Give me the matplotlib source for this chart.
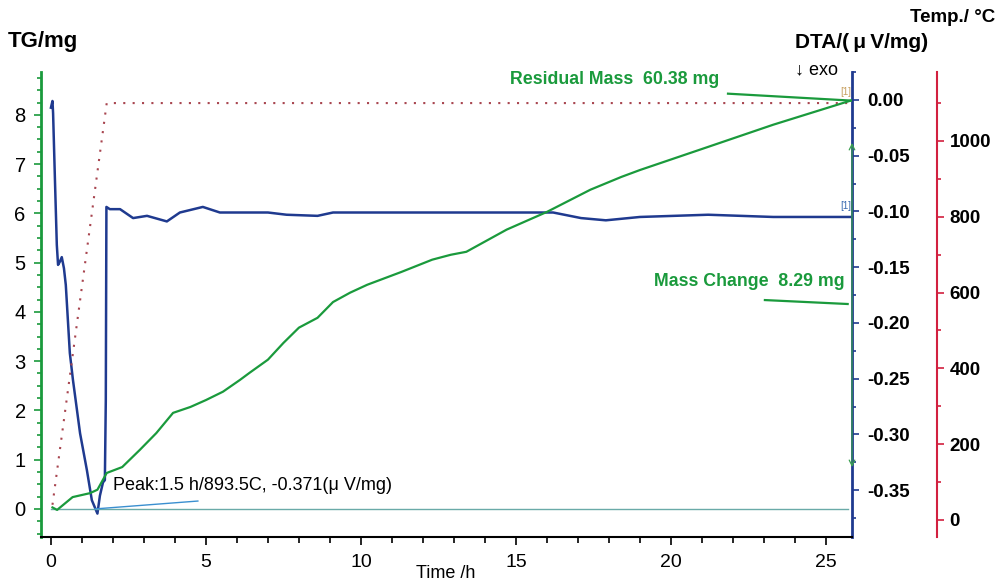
import matplotlib
matplotlib.use("Agg")
import matplotlib.pyplot as plt
from matplotlib.ticker import MultipleLocator

plt.rcParams['font.family'] = ['Liberation Sans', 'DejaVu Sans']

# ---- data ----
tg_time = [0.05, 0.2, 0.7, 1.26, 1.5, 1.8, 2.3, 2.87, 3.4, 3.94, 4.5, 5.0, 5.55, 6.1, 6.4, 7.0,
           7.5, 8.0, 8.6, 9.1, 9.65, 10.2, 11.3, 12.3, 12.9, 13.4, 14.7, 16.0, 17.4, 18.4, 19.0,
           21.2, 23.3, 25.8]
tg_mass = [0.03, -0.02, 0.24, 0.32, 0.39, 0.73, 0.85, 1.2, 1.54, 1.95, 2.07, 2.21, 2.38, 2.62, 2.76,
           3.03, 3.37, 3.68, 3.88, 4.2, 4.39, 4.55, 4.81, 5.06, 5.16, 5.22, 5.67, 6.03, 6.48, 6.74,
           6.88, 7.35, 7.8, 8.29]

dta_time = [0.0, 0.05, 0.07, 0.13, 0.19, 0.23, 0.29, 0.35, 0.42, 0.48, 0.61, 0.71, 0.94, 1.16, 1.32,
            1.5, 1.58, 1.68, 1.74, 1.77, 1.79, 1.9, 2.23, 2.65, 3.1, 3.74, 4.16, 4.9, 5.45, 6.1,
            7.0, 7.6, 8.6, 9.1, 12.9, 16.2, 17.1, 17.9, 19.0, 21.2, 23.3, 25.8]
dta_val = [-0.007, -0.001, -0.012, -0.072, -0.130, -0.148, -0.145, -0.141, -0.151, -0.166, -0.227,
           -0.251, -0.299, -0.332, -0.359, -0.371, -0.355, -0.343, -0.341, -0.270, -0.096, -0.098,
           -0.098, -0.106, -0.104, -0.109, -0.101, -0.096, -0.101, -0.101, -0.101, -0.103, -0.104,
           -0.101, -0.101, -0.101, -0.106, -0.108, -0.105, -0.103, -0.105, -0.105]

temp_time = [0.05, 1.8, 25.8]
temp_val = [40, 1100, 1100]

tg_ticks = [0, 1, 2, 3, 4, 5, 6, 7, 8]
dta_ticks = [0.00, -0.05, -0.10, -0.15, -0.20, -0.25, -0.30, -0.35]
temp_ticks = [0, 200, 400, 600, 800, 1000]
time_ticks = [0, 5, 10, 15, 20, 25]

peak_text = "Peak:1.5 h/893.5C, -0.371(\u03bc V/mg)"
residual_text = "Residual Mass  60.38 mg"
change_text = "Mass Change  8.29 mg"

GREEN = '#1a9a3c'
BLUE = '#1f3a8f'
RED = '#d2203f'
DOT = '#a8454f'

W, H = 1003, 583
fig = plt.figure(figsize=(W / 100, H / 100), dpi=100)
L, R, B, T = 41 / W, 852 / W, 1 - 537 / H, 1 - 72 / H
ax = fig.add_axes([L, B, R - L, T - B])
ax2 = ax.twinx()
ax3 = ax.twinx()

ax.set_xlim(-0.32, 25.84)
ax.set_ylim(-0.57, 8.87)
ax2.set_ylim(-0.392, 0.025)
ax3.set_ylim(-45, 1182)

# spines
for a in (ax, ax2, ax3):
    a.spines['top'].set_visible(False)
ax.spines['right'].set_visible(False)
ax2.spines['left'].set_visible(False)
ax3.spines['left'].set_visible(False)
ax2.spines['bottom'].set_visible(False)
ax3.spines['bottom'].set_visible(False)
ax.spines['left'].set_color(GREEN)
ax.spines['left'].set_linewidth(2)
ax.spines['bottom'].set_linewidth(1.5)
ax2.spines['right'].set_color(BLUE)
ax2.spines['right'].set_linewidth(2)
ax3.spines['right'].set_position(('axes', (937 - 41) / (852 - 41)))
ax3.spines['right'].set_color(RED)
ax3.spines['right'].set_linewidth(1.5)

# ticks
ax.set_xticks(time_ticks)
ax.xaxis.set_minor_locator(MultipleLocator(1))
ax.set_yticks(tg_ticks)
ax.yaxis.set_minor_locator(MultipleLocator(0.25))
ax.tick_params(axis='x', which='major', length=6, width=1.2, labelsize=14, pad=6)
ax.tick_params(axis='x', which='minor', length=4, width=1.2)
ax.tick_params(axis='y', which='major', length=5, width=1.2, color=GREEN, labelsize=14.5, pad=6)
ax.tick_params(axis='y', which='minor', length=3, width=1.2, color=GREEN)

ax2.set_yticks(dta_ticks)
ax2.set_yticklabels([f"{v:.2f}" for v in dta_ticks], fontweight='bold')
ax2.yaxis.set_minor_locator(MultipleLocator(0.025))
ax2.tick_params(axis='y', which='major', length=5, width=1.2, color=BLUE, labelsize=13.5, pad=6)
ax2.tick_params(axis='y', which='minor', length=3, width=1.2, color=BLUE)

ax3.set_yticks(temp_ticks)
ax3.set_yticklabels([str(v) for v in temp_ticks], fontweight='bold')
ax3.yaxis.set_minor_locator(MultipleLocator(100))
ax3.tick_params(axis='y', which='major', length=5, width=1.2, color=RED, labelsize=13.5, pad=4)
ax3.tick_params(axis='y', which='minor', length=3, width=1.2, color=RED)

# curves
ax3.plot(temp_time, temp_val, color=DOT, linestyle=(0, (1, 3.5)), linewidth=1.5, zorder=1)
ax2.plot(dta_time, dta_val, color=BLUE, linewidth=1.8, zorder=3)
ax.plot(tg_time, tg_mass, color=GREEN, linewidth=1.6, zorder=4)
ax.set_zorder(ax2.get_zorder() + 2)
ax.patch.set_visible(False)

# baseline and peak tangent
ax.plot([0.0, 25.7], [0, 0], color='#6aaaa8', linewidth=1.0)
ax.plot([1.42, 4.74], [0, 0.16], color='#3a8fd0', linewidth=1.0)

# annotation pointers
ax.plot([21.84, 25.8], [8.43, 8.29], color=GREEN, linewidth=1.6, clip_on=False)
ax.plot([23.03, 25.7], [4.24, 4.16], color=GREEN, linewidth=1.6, clip_on=False)
ax.annotate('', xy=(25.84, 0.85), xytext=(25.84, 7.43),
            arrowprops=dict(arrowstyle='<->', color='#3aa050', lw=0.9, shrinkA=0, shrinkB=0),
            annotation_clip=False)


def fx(px):
    return px / W


def fy(py):
    return 1 - py / H


fig.text(fx(8), fy(42), "TG/mg", fontsize=16, fontweight='bold', va='center', ha='left')
fig.text(fx(795), fy(42), "DTA/(\u2009\u03bc\u2009V/mg)", fontsize=15, fontweight='bold', va='center', ha='left')
fig.text(fx(995), fy(17), "Temp./ \u00b0C", fontsize=13.5, fontweight='bold', va='center', ha='right')
fig.text(fx(795), fy(70), "\u2193 exo", fontsize=13, va='center', ha='left')
fig.text(fx(446), fy(573), "Time /h", fontsize=13, va='center', ha='center')
fig.text(fx(510), fy(80), residual_text, fontsize=12.8, fontweight='bold', color=GREEN, va='center', ha='left')
fig.text(fx(654), fy(282), change_text, fontsize=12.8, fontweight='bold', color=GREEN, va='center', ha='left')
fig.text(fx(113), fy(486), peak_text, fontsize=13, va='center', ha='left')
fig.text(fx(846), fy(92), "[1]", fontsize=7, color='#c8a060', va='center', ha='center')
fig.text(fx(846), fy(206), "[1]", fontsize=7, color='#3a6ab0', va='center', ha='center')

fig.savefig("out.png", dpi=100)
